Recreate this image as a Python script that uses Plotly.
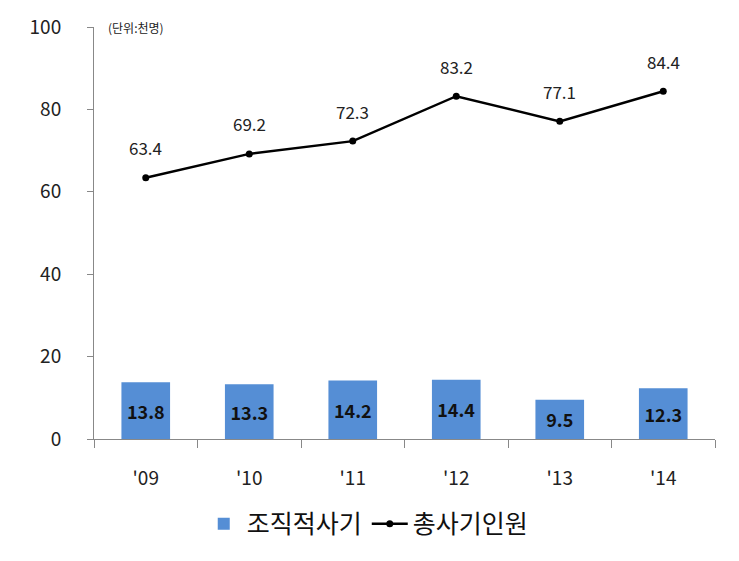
import plotly.graph_objects as go

years = ["'09", "'10", "'11", "'12", "'13", "'14"]
organized = [13.8, 13.3, 14.2, 14.4, 9.5, 12.3]
total = [63.4, 69.2, 72.3, 83.2, 77.1, 84.4]

FONT = "Noto Sans CJK KR"

fig = go.Figure()
fig.add_trace(go.Bar(
    x=years, y=organized, name="조직적사기",
    marker=dict(color="#558ED5", line=dict(width=0)),
    text=[f"{v:.1f}" for v in organized],
    textposition="inside", insidetextanchor="middle",
    textfont=dict(family=FONT, size=18, color="#111111", weight="bold"),
    width=0.47,
))
fig.add_trace(go.Scatter(
    x=years, y=total, name="총사기인원", mode="lines+markers",
    line=dict(color="#000000", width=2.5),
    marker=dict(color="#000000", size=7),
))
for x, v in zip(years, total):
    fig.add_annotation(x=x, y=v, text=f"{v:.1f}", showarrow=False, yshift=30,
                       font=dict(family=FONT, size=17, color="#222222"))

fig.add_annotation(xref="paper", yref="paper", x=0.02, y=1.0, xanchor="left", yanchor="middle",
                   text="(단위:천명)", showarrow=False,
                   font=dict(family=FONT, size=12, color="#222222"))

fig.update_layout(
    width=739, height=561,
    margin=dict(l=94, r=24, t=27, b=122),
    plot_bgcolor="white", paper_bgcolor="white",
    font=dict(family=FONT, size=19, color="#222222"),
    showlegend=True,
    legend=dict(orientation="h", x=0.44, xanchor="center", yref="container", y=0.025, yanchor="bottom",
                font=dict(family=FONT, size=25, color="#111111"), itemwidth=36,
                tracegroupgap=0),
    bargap=0.53,
)
fig.update_xaxes(showline=True, linecolor="#888888", linewidth=1, ticks="outside",
                 tickson="boundaries", ticklen=8, tickcolor="#888888", showgrid=False,
                 tickfont=dict(size=19), ticklabelstandoff=22)
fig.update_yaxes(range=[0, 100], dtick=20, showline=True, linecolor="#888888", linewidth=1,
                 ticks="outside", ticklen=6, tickcolor="#888888", showgrid=False, zeroline=False,
                 tickfont=dict(size=19), ticklabelstandoff=22)

fig.write_html("out.html")
